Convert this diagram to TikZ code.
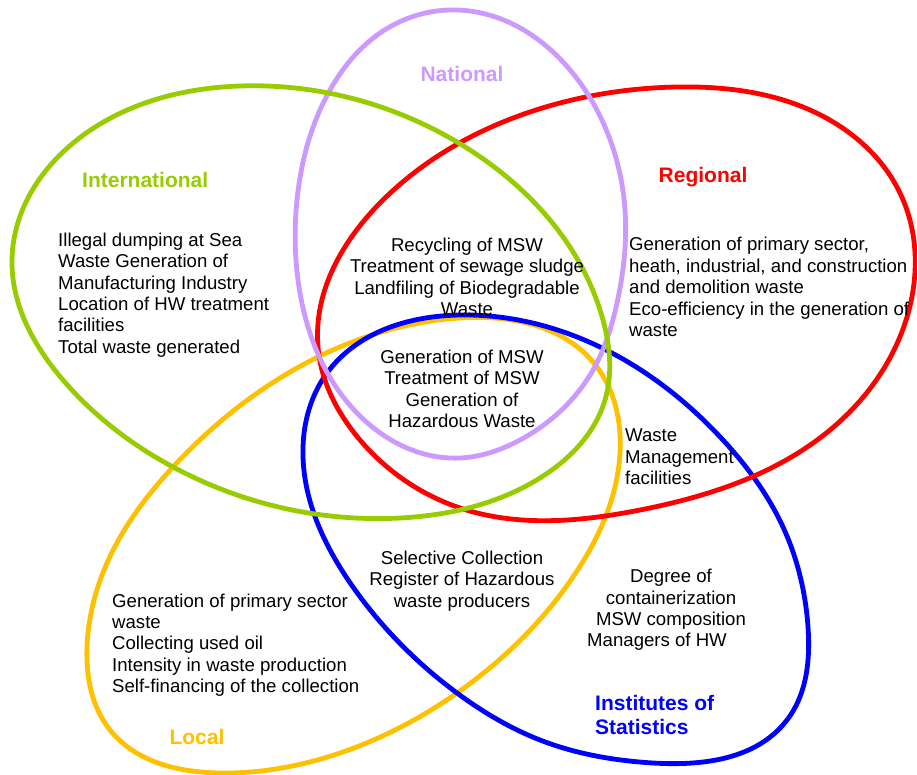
\documentclass[tikz,border=0pt]{standalone}
\usepackage{fontspec}
\setmainfont{Liberation Sans}
\usetikzlibrary{hobby}
\definecolor{intlgreen}{HTML}{99CC00}
\definecolor{natlviolet}{HTML}{CC99FF}
\definecolor{reglred}{HTML}{FF0000}
\definecolor{instblue}{HTML}{0000FF}
\definecolor{loclorange}{HTML}{FFC000}
\tikzset{
  ring/.style={line width=4.8pt},
  scopetitle/.style={font=\fontsize{21}{24}\selectfont\bfseries, inner sep=0pt},
  items/.style={font=\fontsize{18.6}{21.4}\selectfont, inner sep=0pt, text=black},
}
\begin{document}
\begin{tikzpicture}[x=1pt,y=-1pt]
\useasboundingbox (0,0) rectangle (917,775);

% Local
\draw[ring, loclorange] plot[closed hobby] coordinates {
  (460,318) (593,362) (620,453) (573,577) (457,693) (340,753) (220,773)
  (110,730) (87,647) (107,563) (173,467) (280,378)};

% Institutes of Statistics
\draw[ring, instblue] plot[closed hobby] coordinates {
  (460,315) (600,347) (723,440) (783,527) (808,627) (787,720) (653,763)
  (540,740) (457,693) (353,587) (303,447) (327,373)};

% Regional
\draw[ring, reglred] plot[closed hobby] coordinates {
  (677,87) (810,110) (900,193) (907,317) (830,430) (640,510) (460,508)
  (360,440) (318,347) (383,200) (560,103)};

% National
\draw[ring, natlviolet] plot[closed hobby] coordinates {
  (458,10) (587,93) (625,210) (617,303) (593,370) (520,440) (460,458)
  (357,413) (298,280) (297,200) (330,90) (380,33)};

% International
\draw[ring, intlgreen] plot[closed hobby] coordinates {
  (12,260) (107,120) (240,86) (462,145) (603,320) (605,400) (540,478)
  (400,518) (173,467) (63,380)};

% Scope titles
\node[scopetitle, text=intlgreen, anchor=west] (tIntl) at (82,180) {International};
\node[scopetitle, text=natlviolet] (tNatl) at (462,74) {National};
\node[scopetitle, text=reglred] (tRegl) at (703,177) {Regional};
\node[scopetitle, text=loclorange] (tLocl) at (197,737) {Local};
\node[scopetitle, text=instblue, anchor=west, align=left] (tInst) at (595,715)
  {Institutes of\\Statistics};

% Indicator lists
\node[items, anchor=west, align=left] (lIntl) at (58,295) {Illegal dumping at Sea\\
  Waste Generation of\\Manufacturing Industry\\Location of HW treatment\\
  facilities\\Total waste generated};
\node[items, anchor=west, align=left] (lRegl) at (629,287) {Generation of primary sector,\\
  heath, industrial, and construction\\and demolition waste\\
  Eco-efficiency in the generation of\\waste};
\node[items, align=center] (lNatRegIntl) at (467,277) {Recycling of MSW\\
  Treatment of sewage sludge\\Landfiling of Biodegradable\\Waste};
\node[items, align=center] (lCore) at (462,389) {Generation of MSW\\
  Treatment of MSW\\Generation of\\Hazardous Waste};
\node[items, anchor=west, align=left] (lRegInst) at (625,457) {Waste\\
  Management\\facilities};
\node[items, align=center] (lLocInst) at (462,581) {Selective Collection\\
  Register of Hazardous\\waste producers};
\node[items, align=center] (lInst) at (671,610) {Degree of\\containerization\\
  MSW composition\\Managers of HW\hspace*{28pt}};
\node[items, anchor=west, align=left] (lLocl) at (112,645) {Generation of primary sector\\
  waste\\Collecting used oil\\Intensity in waste production\\
  Self-financing of the collection};
\end{tikzpicture}
\end{document}
